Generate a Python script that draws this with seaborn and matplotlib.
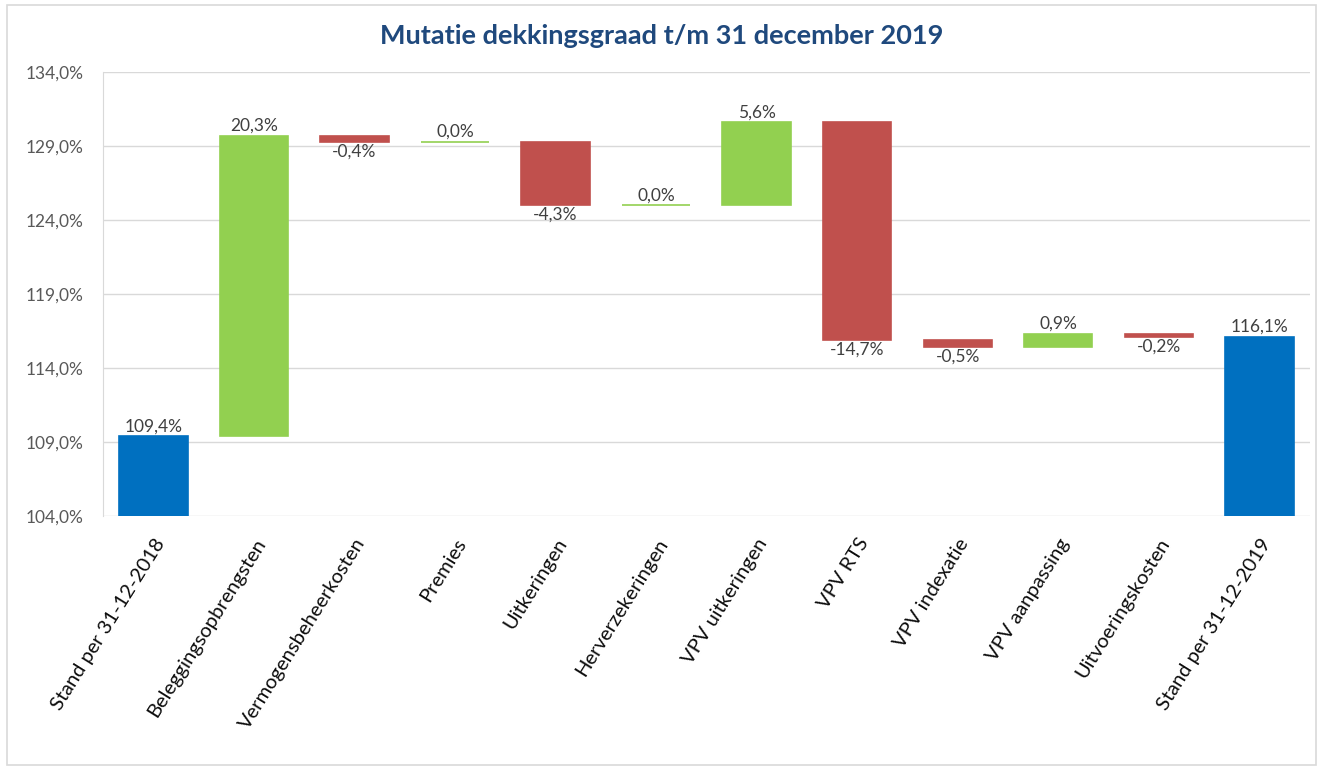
import numpy as np
import pandas as pd
import matplotlib.pyplot as plt
import seaborn as sns
from matplotlib.patches import Rectangle

categories = ["Stand per 31-12-2018", "Beleggingsopbrengsten", "Vermogensbeheerkosten",
              "Premies", "Uitkeringen", "Herverzekeringen", "VPV uitkeringen", "VPV RTS",
              "VPV indexatie", "VPV aanpassing", "Uitvoeringskosten", "Stand per 31-12-2019"]
start_value = 109.4
changes = [20.3, -0.4, 0.0, -4.3, 0.0, 5.6, -14.7, -0.5, 0.9, -0.2]
end_value = 116.1
y_ticks = [104, 109, 114, 119, 124, 129, 134]

blue, green, red = "#0070C0", "#92D050", "#C0504D"
axis_floor = 104

# waterfall: running level before each change
levels = start_value + np.concatenate([[0], np.cumsum(changes)])
bottoms = [axis_floor] + [min(levels[i], levels[i + 1]) for i in range(len(changes))] + [axis_floor]
heights = [start_value - axis_floor] + [abs(c) for c in changes] + [end_value - axis_floor]
colors = [blue] + [green if c >= 0 else red for c in changes] + [blue]
labels = [start_value] + changes + [end_value]

df = pd.DataFrame({"cat": categories, "height": heights, "bottom": bottoms})

sns.set_style("white")
plt.rcParams["font.family"] = ["Lato", "DejaVu Sans"]

fig = plt.figure(figsize=(13.23, 7.7), dpi=100)
ax = fig.add_axes([0.0779, 0.33, 0.912, 0.5765])

sns.barplot(data=df, x="cat", y="height", bottom=df["bottom"], color=blue, width=0.68,
            ax=ax, saturation=1)
for p, c in zip(ax.patches, colors):
    p.set_facecolor(c)
    p.set_edgecolor(c)
    p.set_linewidth(1.2)

for i, (b, h, v) in enumerate(zip(bottoms, heights, labels)):
    txt = f"{v:.1f}%".replace(".", ",")
    if i in (0, len(labels) - 1) or v >= 0:
        ax.text(i, b + h + 0.12, txt, ha="center", va="bottom", fontsize=12.5, color="#404040")
    else:
        ax.text(i, b - 0.12, txt, ha="center", va="top", fontsize=12.5, color="#404040")

ax.set_ylim(104, 134)
ax.set_xlim(-0.5, len(categories) - 0.5)
ax.set_yticks(y_ticks)
ax.set_yticklabels([f"{t:.1f}%".replace(".", ",") for t in y_ticks], fontsize=12.5, color="#595959")
ax.yaxis.grid(True, color="#D9D9D9", linewidth=1)
ax.set_axisbelow(True)
ax.tick_params(axis="y", length=0, pad=14)
ax.tick_params(axis="x", length=0, pad=14)
plt.setp(ax.get_xticklabels(), rotation=58, ha="right", rotation_mode="anchor",
         fontsize=14.5, color="#0D0D0D")
ax.set_xlabel("")
ax.set_ylabel("")
for s in ["top", "right", "bottom"]:
    ax.spines[s].set_visible(False)
ax.spines["left"].set_color("#D9D9D9")

fig.text(0.5004, 0.953, "Mutatie dekkingsgraad t/m 31 december 2019", ha="center", va="center",
         fontsize=19.5, fontweight="bold", color="#1F497D")
fig.patches.append(Rectangle((0.005, 0.006), 0.99, 0.988, transform=fig.transFigure,
                             fill=False, edgecolor="#D9D9D9", linewidth=1.2))

fig.savefig("out.png", dpi=100)
